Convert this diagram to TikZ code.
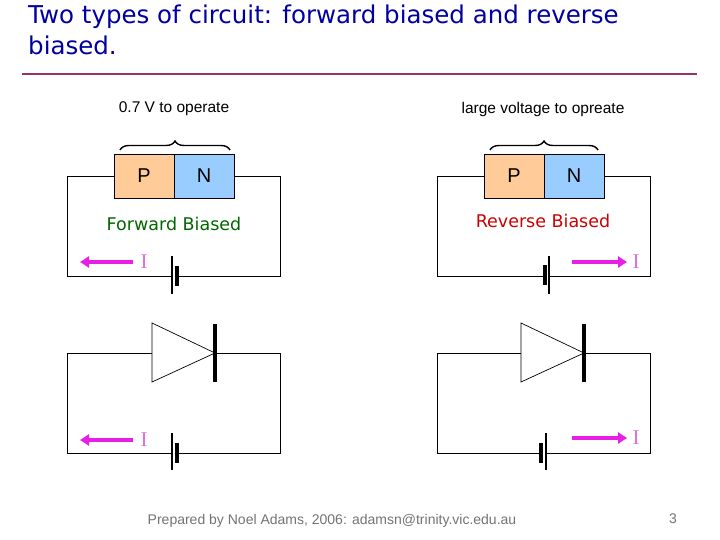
\documentclass[tikz,border=0pt]{standalone}
\usepackage{fontspec}
\setmainfont{Liberation Sans}
\newfontfamily\comic{DejaVu Sans}
\newfontfamily\serifI{Liberation Serif}
\usetikzlibrary{decorations.pathreplacing,arrows.meta}
\definecolor{ttl}{RGB}{0,0,160}
\definecolor{rule}{RGB}{153,51,102}
\definecolor{pcol}{RGB}{255,204,153}
\definecolor{ncol}{RGB}{153,204,255}
\definecolor{mag}{RGB}{230,30,230}
\definecolor{ilab}{RGB}{225,110,225}
\begin{document}
\begin{tikzpicture}[x=1pt,y=-1pt,
  wire/.style={line width=1pt},
  thin/.style={line width=1.3pt},
  thick/.style={line width=3.2pt},
  cur/.style={draw=mag,line width=3.5pt,-{Triangle[length=9pt,width=11pt]}},
  il/.style={text=ilab,font=\serifI\fontsize{21}{21}\selectfont},
  box/.style={draw,line width=0.8pt,minimum width=60pt,minimum height=44pt,inner sep=0pt,font=\fontsize{20}{20}\selectfont},
  brc/.style={decorate,decoration={brace,amplitude=9pt},line width=1.4pt},
  lab/.style={font=\fontsize{15.5}{16}\selectfont}]
\useasboundingbox (0,0) rectangle (720,540);
\node[anchor=north west,align=left,text=ttl,font=\comic\fontsize{24.5}{31}\selectfont,inner sep=0pt] (title) at (28,5) {Two types of circuit: forward biased and reverse\\biased.};
\draw[rule,line width=2.5pt] (22,74) -- (697,74);
% Left top
\node[lab] (lt) at (174,109) {0.7 V to operate};
\node[box,fill=pcol] (p1) at (144,176) {P};
\node[box,fill=ncol] (n1) at (204,176) {N};
\draw[brc] (120,150) -- (230,150);
\node[text=green!40!black,font=\comic\fontsize{17.5}{18}\selectfont] (fb) at (174,224) {Forward Biased};
\coordinate (a1) at (114,177); \coordinate (b1) at (234,177);
\draw[wire] (a1) -- (67,177) -- (67,276) -- (172,276);
\draw[wire] (b1) -- (280,177) -- (280,276) -- (177,276);
\draw[thin] (172,256) -- (172,294);
\draw[thick] (177,266) -- (177,286);
\coordinate (c1s) at (133,262); \coordinate (c1e) at (80,262);
\draw[cur] (c1s) -- (c1e);
\node[il] (i1) at (144,262) {I};
% Left bottom
\draw[wire] (152,353) -- (67,353) -- (67,453) -- (172,453);
\draw[wire] (215,353) -- (280,353) -- (280,453) -- (177,453);
\draw[line width=0.7pt] (152,323) -- (215,353) -- (152,382) -- cycle;
\draw[thick] (215,324) -- (215,382);
\draw[thin] (172,433) -- (172,470);
\draw[thick] (177,443) -- (177,463);
\coordinate (c2s) at (133,440); \coordinate (c2e) at (80,440);
\draw[cur] (c2s) -- (c2e);
\node[il] (i2) at (144,440) {I};
% Right top
\node[lab] (rt) at (543,109) {large voltage to opreate};
\node[box,fill=pcol] (p2) at (514,176) {P};
\node[box,fill=ncol] (n2) at (574,176) {N};
\draw[brc] (490,150) -- (598,150);
\node[text=red!80!black,font=\comic\fontsize{17.5}{18}\selectfont] (rb) at (543,221) {Reverse Biased};
\draw[wire] (484,177) -- (437,177) -- (437,276) -- (545,276);
\draw[wire] (604,177) -- (650,177) -- (650,276) -- (549,276);
\draw[thick] (545,265) -- (545,285);
\draw[thin] (549,256) -- (549,294);
\coordinate (c3s) at (572,262); \coordinate (c3e) at (627,262);
\draw[cur] (c3s) -- (c3e);
\node[il] (i3) at (636,262) {I};
% Right bottom
\draw[wire] (521,353) -- (437,353) -- (437,453) -- (541,453);
\draw[wire] (584,353) -- (650,353) -- (650,453) -- (546,453);
\draw[line width=0.7pt] (521,323) -- (584,353) -- (521,382) -- cycle;
\draw[thick] (584,324) -- (584,382);
\draw[thick] (541,443) -- (541,463);
\draw[thin] (546,433) -- (546,470);
\coordinate (c4s) at (572,438); \coordinate (c4e) at (627,438);
\draw[cur] (c4s) -- (c4e);
\node[il] (i4) at (636,438) {I};
% footer
\node[text=gray!90!black] (ft) at (332,521) {\fontsize{14}{14}\selectfont Prepared by Noel Adams, 2006: adamsn@trinity.vic.edu.au};
\node[text=gray!90!black] (pg) at (673,519) {\fontsize{14}{14}\selectfont 3};
\end{tikzpicture}
\end{document}
